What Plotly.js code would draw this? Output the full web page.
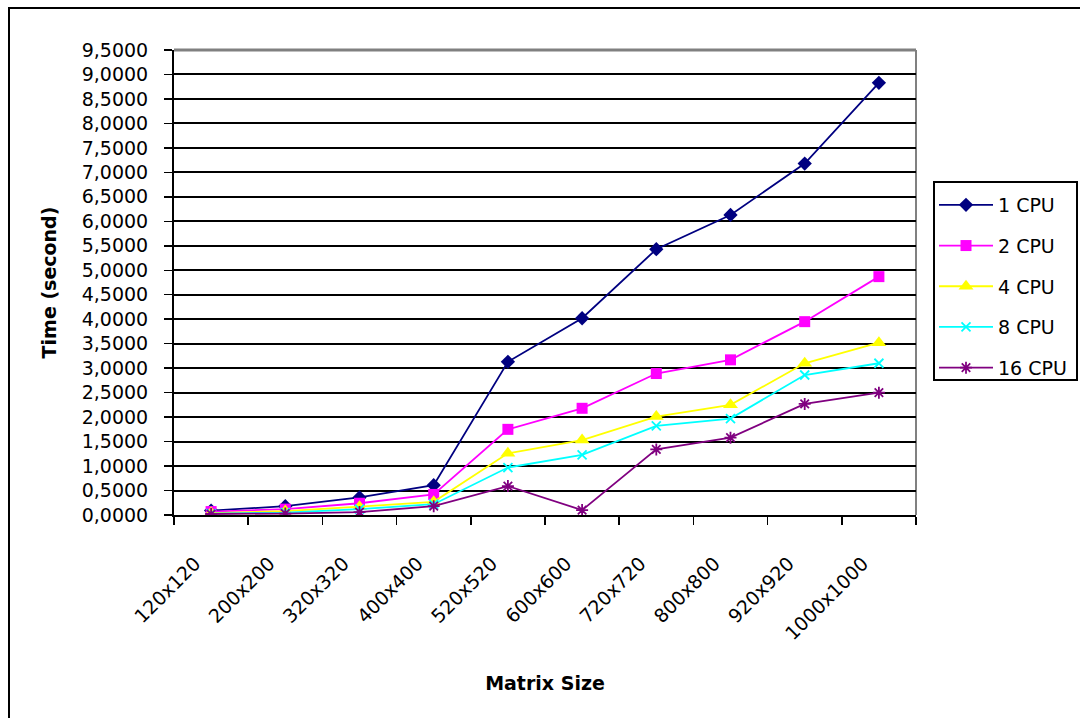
<!DOCTYPE html>
<html>
<head>
<meta charset="utf-8">
<script src="https://cdn.plot.ly/plotly-3.0.1.min.js"></script>
<style>
  html, body { margin: 0; padding: 0; background: #ffffff; overflow: hidden; }
  #chart { position: absolute; left: 0; top: 0; width: 1080px; height: 718px; }
  #frame { position: absolute; left: 8px; top: 7px; width: 1100px; height: 740px;
           border: 2px solid #000; pointer-events: none; }
</style>
</head>
<body>
<div id="chart"></div>
<div id="frame"></div>
<script>
const categories = ['120x120','200x200','320x320','400x400','520x520','600x600','720x720','800x800','920x920','1000x1000'];
const seriesNames = ['1 CPU','2 CPU','4 CPU','8 CPU','16 CPU'];
const cpu1  = [0.09, 0.18, 0.36, 0.61, 3.13, 4.02, 5.43, 6.13, 7.18, 8.83];
const cpu2  = [0.07, 0.12, 0.24, 0.42, 1.75, 2.18, 2.89, 3.17, 3.95, 4.87];
const cpu4  = [0.04, 0.08, 0.17, 0.27, 1.26, 1.53, 2.01, 2.25, 3.10, 3.52];
const cpu8  = [0.03, 0.05, 0.12, 0.22, 0.97, 1.23, 1.82, 1.97, 2.86, 3.10];
const cpu16 = [0.02, 0.03, 0.06, 0.18, 0.59, 0.10, 1.34, 1.58, 2.27, 2.50];

const values = [cpu1, cpu2, cpu4, cpu8, cpu16];
const colors = ['#000080', '#FF00FF', '#FFFF00', '#00FFFF', '#800080'];
const symbols = ['diamond', 'square', 'triangle-up', 'x-thin-open', 'asterisk-open'];
const sizes = [11, 11, 13, 9, 10];

const FONT = 'DejaVu Sans, sans-serif';

const traces = values.map((v, i) => ({
  type: 'scatter',
  mode: 'lines+markers',
  name: seriesNames[i],
  x: categories,
  y: v,
  legendgroup: 'g' + i,
  line: { color: colors[i], width: 1.8 },
  marker: { symbol: symbols[i], size: sizes[i], color: colors[i],
            line: { color: colors[i], width: (i >= 3 ? 1.8 : 0) } }
}));

// plot area pixels: x 174..916, y 50..515
const PW = 742, PH = 465;
const lx0 = (934 - 174) / PW, lx1 = (1077 - 174) / PW;
const ly0 = (515 - 380) / PH, ly1 = (515 - 182) / PH;

const layout = {
  width: 1080, height: 718,
  margin: { l: 174, r: 164, t: 50, b: 203, autoexpand: false },
  paper_bgcolor: 'rgba(0,0,0,0)',
  plot_bgcolor: '#ffffff',
  separators: ',.',
  font: { family: FONT, size: 19, color: '#000' },
  showlegend: true,
  legend: {
    x: lx0, y: (515 - 186) / PH, xanchor: 'left', yanchor: 'top',
    bgcolor: 'rgba(0,0,0,0)', borderwidth: 0,
    font: { family: FONT, size: 19, color: '#000' },
    tracegroupgap: 13, itemwidth: 54
  },
  xaxis: {
    type: 'category',
    tickson: 'boundaries',
    ticks: 'outside', ticklen: 8, tickwidth: 1.5, tickcolor: '#000',
    showline: true, linecolor: '#000', linewidth: 2,
    showgrid: false,
    tickangle: -45,
    ticklabelstandoff: 28,
    ticklabelshift: -16,
    tickfont: { family: FONT, size: 19 },
    title: { text: '<b>Matrix Size</b>', font: { family: FONT, size: 19 }, standoff: 34 },
    range: [-0.5, 9.5]
  },
  yaxis: {
    range: [0, 9.5],
    dtick: 0.5, tick0: 0,
    tickformat: '.4f',
    ticks: 'outside', ticklen: 8, tickwidth: 1.5, tickcolor: '#000',
    showline: true, linecolor: '#000', linewidth: 2,
    showgrid: true, gridcolor: '#000', gridwidth: 2,
    zeroline: false,
    ticklabelstandoff: 12,
    tickfont: { family: FONT, size: 19 },
    title: { text: '<b>Time (second)</b>', font: { family: FONT, size: 19 }, standoff: 20 }
  },
  shapes: [
    { type: 'line', xref: 'paper', yref: 'paper', x0: 0, x1: 1, y0: 1, y1: 1,
      line: { color: '#808080', width: 3 }, layer: 'above' },
    { type: 'line', xref: 'paper', yref: 'paper', x0: 1, x1: 1, y0: 0, y1: 1,
      line: { color: '#808080', width: 2 }, layer: 'below' },
    { type: 'rect', xref: 'paper', yref: 'paper', x0: lx0, x1: lx1, y0: ly0, y1: ly1,
      line: { color: '#000', width: 2 }, fillcolor: '#ffffff', layer: 'above' }
  ]
};

Plotly.newPlot('chart', traces, layout, { staticPlot: true, displayModeBar: false });
</script>
</body>
</html>
